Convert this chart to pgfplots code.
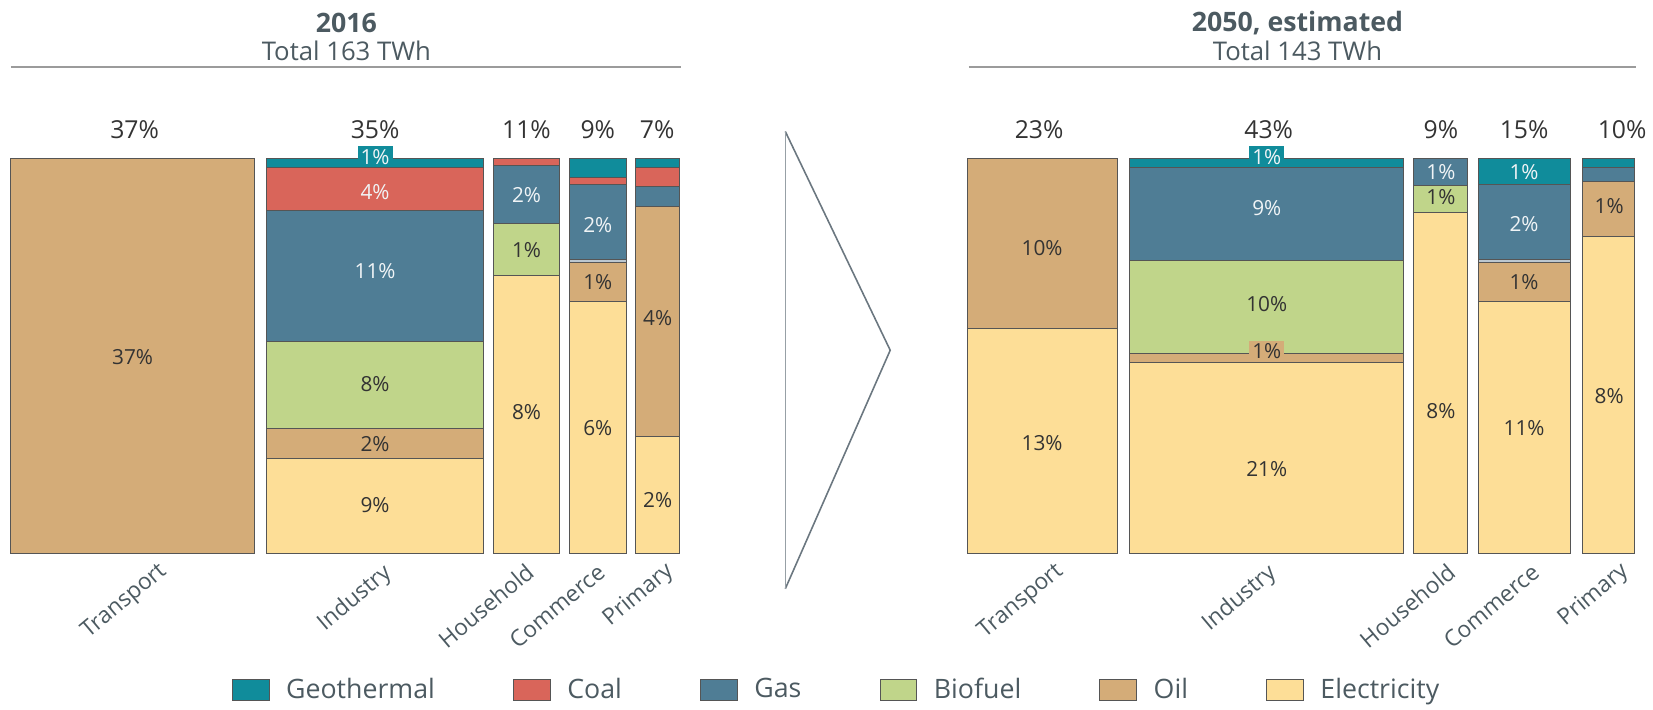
\documentclass[border=0pt]{standalone}
\usepackage{fontspec}
\setmainfont{Open Sans}
\usepackage{pgfplots}
\pgfplotsset{compat=1.18}

\definecolor{geo}{HTML}{108C9B}
\definecolor{coal}{HTML}{D9655A}
\definecolor{gas}{HTML}{4F7D95}
\definecolor{bio}{HTML}{C0D58A}
\definecolor{oil}{HTML}{D4AC78}
\definecolor{elec}{HTML}{FDDE97}
\definecolor{pale}{HTML}{BCC7CF}
\definecolor{segline}{HTML}{555555}
\definecolor{txtdark}{HTML}{333333}
\definecolor{txtlight}{HTML}{F0F4F6}
\definecolor{titlec}{HTML}{4C5A61}
\definecolor{rulec}{HTML}{9B9B9B}
\definecolor{arrowc}{HTML}{6B7780}

% one rectangle of a column: x from #1 to #2, height (share of column) from #3 to #4
\newcommand{\seg}[5]{\addplot[forget plot, draw=segline, line width=0.5pt, fill=#5]
  coordinates {(#1,#3) (#2,#3) (#2,#4) (#1,#4)} -- cycle;}
\newcommand{\inl}[4]{\node[font=\fontsize{10.5}{12}\selectfont, text=#4] at (axis cs:#1,#2) {#3};}
\newcommand{\share}[2]{\node[font=\fontsize{12.5}{14}\selectfont, text=txtdark] at (axis cs:#1,107.3) {#2};}
\newcommand{\cat}[3]{\node[font=\fontsize{11.5}{13}\selectfont, text=titlec, rotate=40, anchor=east] at (axis cs:#1,#2) {#3};}

\pgfplotsset{fuelbox/.style={legend image code/.code={\draw[##1] (0pt,-5.5pt) rectangle (18.5pt,5.5pt);}}}

\begin{document}
\begin{tikzpicture}
\begin{axis}[
  width=826.5pt, height=354pt, scale only axis,
  xmin=0, xmax=1653, ymin=-37.34, ymax=140.1,
  hide axis, clip=false,
  legend columns=6,
  legend style={at={(0.512,0.0155)}, anchor=center, draw=none, fill=none,
    font=\fontsize{13.5}{15}\selectfont, text=titlec,
    /tikz/every odd column/.append style={column sep=6.5pt},
    /tikz/every even column/.append style={column sep=37.5pt}},
]
\path (rel axis cs:0,0) rectangle (rel axis cs:1,1);

% ---- 2016 ----
\seg{10.6}{257.5}{0}{100}{oil}
\seg{269.6}{489}{0}{24.0}{elec}
\seg{269.6}{489}{24.0}{31.6}{oil}
\seg{269.6}{489}{31.6}{53.5}{bio}
\seg{269.6}{489}{53.5}{86.7}{gas}
\seg{269.6}{489}{86.7}{97.7}{coal}
\seg{269.6}{489}{97.7}{100}{geo}
\seg{499}{565.4}{0}{70.3}{elec}
\seg{499}{565.4}{70.3}{83.6}{bio}
\seg{499}{565.4}{83.6}{98.3}{gas}
\seg{499}{565.4}{98.3}{100}{coal}
\seg{575.4}{632.8}{0}{63.8}{elec}
\seg{575.4}{632.8}{63.8}{73.5}{oil}
\seg{575.4}{632.8}{73.5}{74.5}{pale}
\seg{575.4}{632.8}{74.5}{93.3}{gas}
\seg{575.4}{632.8}{93.3}{95.1}{coal}
\seg{575.4}{632.8}{95.1}{100}{geo}
\seg{641.8}{687}{0}{29.6}{elec}
\seg{641.8}{687}{29.6}{87.8}{oil}
\seg{641.8}{687}{87.8}{92.9}{gas}
\seg{641.8}{687}{92.9}{97.7}{coal}
\seg{641.8}{687}{97.7}{100}{geo}

% ---- 2050 ----
\seg{977.8}{1128.7}{0}{57.0}{elec}
\seg{977.8}{1128.7}{57.0}{100}{oil}
\seg{1140.8}{1418.5}{0}{48.2}{elec}
\seg{1140.8}{1418.5}{48.2}{50.7}{oil}
\seg{1140.8}{1418.5}{50.7}{74.2}{bio}
\seg{1140.8}{1418.5}{74.2}{97.7}{gas}
\seg{1140.8}{1418.5}{97.7}{100}{geo}
\seg{1428.5}{1482.8}{0}{86.4}{elec}
\seg{1428.5}{1482.8}{86.4}{93.2}{bio}
\seg{1428.5}{1482.8}{93.2}{100}{gas}
\seg{1494}{1586.5}{0}{63.8}{elec}
\seg{1494}{1586.5}{63.8}{73.5}{oil}
\seg{1494}{1586.5}{73.5}{74.5}{pale}
\seg{1494}{1586.5}{74.5}{93.4}{gas}
\seg{1494}{1586.5}{93.4}{100}{geo}
\seg{1599.5}{1652}{0}{80.1}{elec}
\seg{1599.5}{1652}{80.1}{94.1}{oil}
\seg{1599.5}{1652}{94.1}{97.7}{gas}
\seg{1599.5}{1652}{97.7}{100}{geo}

% segment labels 2016
\inl{134}{49.7}{37\%}{txtdark}
\node[font=\fontsize{10.5}{12}\selectfont, text=txtlight, fill=geo, inner sep=1.5pt] at (axis cs:379,100.4) {1\%};
\inl{379}{91.5}{4\%}{txtlight}
\inl{379}{71.5}{11\%}{txtlight}
\inl{379}{42.8}{8\%}{txtdark}
\inl{379}{27.7}{2\%}{txtdark}
\inl{379}{12.3}{9\%}{txtdark}
\inl{532}{90.7}{2\%}{txtlight}
\inl{532}{76.8}{1\%}{txtdark}
\inl{532}{35.8}{8\%}{txtdark}
\inl{604}{83.2}{2\%}{txtlight}
\inl{604}{68.6}{1\%}{txtdark}
\inl{604}{31.6}{6\%}{txtdark}
\inl{664.5}{59.6}{4\%}{txtdark}
\inl{664.5}{13.5}{2\%}{txtdark}

% segment labels 2050
\inl{1053}{77.4}{10\%}{txtdark}
\inl{1053}{28.0}{13\%}{txtdark}
\node[font=\fontsize{10.5}{12}\selectfont, text=txtlight, fill=geo, inner sep=1.5pt] at (axis cs:1280,100.4) {1\%};
\inl{1280}{87.5}{9\%}{txtlight}
\inl{1280}{63.1}{10\%}{txtdark}
\node[font=\fontsize{10.5}{12}\selectfont, text=txtdark, fill=oil, inner sep=1.5pt] at (axis cs:1280,51.1) {1\%};
\inl{1280}{21.3}{21\%}{txtdark}
\inl{1456}{96.5}{1\%}{txtlight}
\inl{1456}{90.3}{1\%}{txtdark}
\inl{1456}{35.9}{8\%}{txtdark}
\inl{1540}{96.4}{1\%}{txtlight}
\inl{1540}{83.3}{2\%}{txtlight}
\inl{1540}{68.6}{1\%}{txtdark}
\inl{1540}{31.6}{11\%}{txtdark}
\inl{1626}{88.0}{1\%}{txtdark}
\inl{1626}{39.9}{8\%}{txtdark}

% column shares
\share{136}{37\%}
\share{379}{35\%}
\share{532}{11\%}
\share{604}{9\%}
\share{664}{7\%}
\share{1050}{23\%}
\share{1282}{43\%}
\share{1456}{9\%}
\share{1540}{15\%}
\share{1639}{10\%}

% sector names
\cat{171}{-2.8}{Transport}
\cat{398}{-3.3}{Industry}
\cat{541}{-2.8}{Household}
\cat{613}{-2.8}{Commerce}
\cat{683}{-2.8}{Primary}
\cat{1077}{-2.8}{Transport}
\cat{1292}{-3.3}{Industry}
\cat{1472}{-2.8}{Household}
\cat{1557}{-2.8}{Commerce}
\cat{1648}{-2.8}{Primary}

% panel titles
\node[font=\bfseries\fontsize{13.5}{15}\selectfont, text=titlec] at (axis cs:350,134.3) {2016};
\node[font=\fontsize{13}{15}\selectfont, text=titlec] at (axis cs:350,127.3) {Total 163 TWh};
\draw[rulec, line width=0.8pt] (axis cs:11,123.1) -- (axis cs:688,123.1);
\node[font=\bfseries\fontsize{13.5}{15}\selectfont, text=titlec] at (axis cs:1311,134.3) {2050, estimated};
\node[font=\fontsize{13}{15}\selectfont, text=titlec] at (axis cs:1311,127.3) {Total 143 TWh};
\draw[rulec, line width=0.8pt] (axis cs:979,123.1) -- (axis cs:1653,123.1);

% arrow between panels
\draw[arrowc, line width=0.8pt, line join=miter] (axis cs:793.5,106.8) -- (axis cs:899.5,51.4) -- (axis cs:793.5,-9.0);
\draw[arrowc!70, line width=0.6pt] (axis cs:793.5,106.8) -- (axis cs:793.5,-9.0);

% legend
\addlegendimage{fuelbox, fill=geo, draw=segline}
\addlegendentry{Geothermal}
\addlegendimage{fuelbox, fill=coal, draw=segline}
\addlegendentry{Coal}
\addlegendimage{fuelbox, fill=gas, draw=segline}
\addlegendentry{Gas}
\addlegendimage{fuelbox, fill=bio, draw=segline}
\addlegendentry{Biofuel}
\addlegendimage{fuelbox, fill=oil, draw=segline}
\addlegendentry{Oil}
\addlegendimage{fuelbox, fill=elec, draw=segline}
\addlegendentry{Electricity}
\end{axis}
\end{tikzpicture}
\end{document}
